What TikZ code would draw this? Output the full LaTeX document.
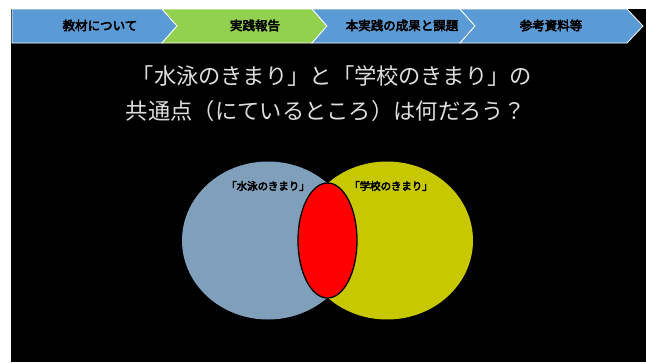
\documentclass[tikz,border=0pt]{standalone}
\usepackage{fontspec}
\setmainfont{Noto Sans CJK JP}
\newfontfamily\jpb[FakeBold=4]{Noto Sans CJK JP}
\definecolor{tabblue}{HTML}{5B9BD5}
\definecolor{tabgreen}{HTML}{92D050}
\definecolor{leftset}{HTML}{7F9FBA}
\definecolor{rightset}{HTML}{C8C800}
\definecolor{titlegray}{HTML}{DDDDDD}
\tikzset{
  tab/.style={draw=white, line width=0.8pt, line join=miter},
  tablabel/.style={font=\jpb\fontsize{12.5}{14}\selectfont, text=black, inner sep=0pt},
  setlabel/.style={font=\jpb\fontsize{10.5}{12}\selectfont, text=black, inner sep=0pt},
  titletext/.style={font=\fontsize{22.3}{35}\selectfont, text=titlegray, align=center, inner sep=0pt},
}
\begin{document}
\begin{tikzpicture}[x=1pt,y=-1pt]
\useasboundingbox (0,0) rectangle (646,362);
\fill[white] (0,0) rectangle (646,362);
\fill[black] (11,9) rectangle (646,362);
% tabs
\filldraw[tab, fill=tabblue] (12,9) -- (162,9) -- (177,26) -- (162,43) -- (12,43) -- cycle;
\filldraw[tab, fill=tabgreen] (162,9) -- (312,9) -- (327,26) -- (312,43) -- (162,43) -- (177,26) -- cycle;
\filldraw[tab, fill=tabblue] (312,9) -- (460,9) -- (475,26) -- (460,43) -- (312,43) -- (327,26) -- cycle;
\filldraw[tab, fill=tabblue] (460,9) -- (627,9) -- (643,26) -- (627,43) -- (460,43) -- (475,26) -- cycle;
\node[tablabel] (t1) at (100,25.5) {教材について};
\node[tablabel] (t2) at (255,25.5) {実践報告};
\node[tablabel] (t3) at (402,25.5) {本実践の成果と課題};
\node[tablabel] (t4) at (551,25.5) {参考資料等};
% title
\node[titletext] (q1) at (332,76) {「水泳のきまり」と「学校のきまり」の};
\node[titletext] (q2) at (326,111) {共通点（にているところ）は何だろう？};
% venn
\fill[leftset] (268,240.5) ellipse [x radius=86, y radius=79];
\fill[rightset] (387,240.5) ellipse [x radius=86, y radius=79];
\filldraw[fill=red, draw=black, line width=1.3pt] (327.5,240.5) ellipse [x radius=29.5, y radius=57.5];
\node[setlabel] (l1) at (268,186) {「水泳のきまり」};
\node[setlabel] (l2) at (391,186) {「学校のきまり」};
\end{tikzpicture}
\end{document}
